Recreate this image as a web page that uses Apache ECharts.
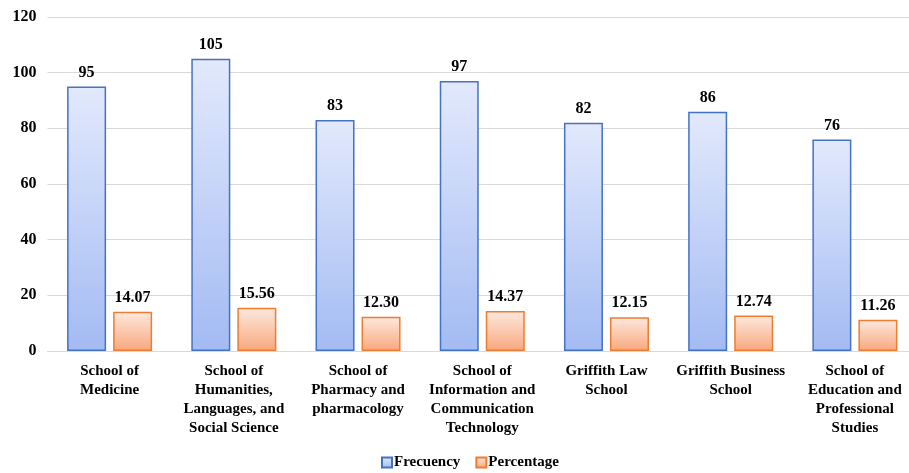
<!DOCTYPE html>
<html>
<head>
<meta charset="utf-8">
<script src="https://cdn.jsdelivr.net/npm/echarts@6/dist/echarts.min.js"></script>
<style>html,body{margin:0;padding:0;background:#fff;overflow:hidden;width:909px;height:473px}#c{width:917px;height:473px}</style>
</head>
<body>
<div id="c"></div>
<script>
const categories = [
  "School of\nMedicine",
  "School of\nHumanities,\nLanguages, and\nSocial Science",
  "School of\nPharmacy and\npharmacology",
  "School of\nInformation and\nCommunication\nTechnology",
  "Griffith Law\nSchool",
  "Griffith Business\nSchool",
  "School of\nEducation and\nProfessional\nStudies"
];
const frequency = [95, 105, 83, 97, 82, 86, 76];
const percentage = [14.07, 15.56, 12.30, 14.37, 12.15, 12.74, 11.26];
const yTicks = [0, 20, 40, 60, 80, 100, 120];

const font = "'Liberation Serif', 'DejaVu Serif', serif";
const chart = echarts.init(document.getElementById('c'));
const grad = (top, bottom) => new echarts.graphic.LinearGradient(0, 0, 0, 1, [
  {offset: 0, color: top}, {offset: 1, color: bottom}
]);
chart.setOption({
  animation: false,
  textStyle: {fontFamily: font},
  grid: {left: 47.5, right: 0, top: 17, bottom: 122},
  legend: {
    bottom: 3, left: 381, padding: 0, itemWidth: 10, itemHeight: 10, itemGap: 15,
    icon: 'rect',
    textStyle: {fontFamily: font, fontWeight: 'bold', fontSize: 15, color: '#000', padding: [0,0,0,-3]},
    data: ['Frecuency', 'Percentage']
  },
  xAxis: {
    type: 'category', data: categories,
    axisLine: {lineStyle: {color: '#d9d9d9'}},
    axisTick: {show: false},
    axisLabel: {
      interval: 0, margin: 11, color: '#000', fontFamily: font, fontWeight: 'bold',
      fontSize: 15, lineHeight: 19
    }
  },
  yAxis: {
    type: 'value', min: yTicks[0], max: yTicks[yTicks.length - 1], interval: 20,
    axisLine: {show: false}, axisTick: {show: false},
    splitLine: {lineStyle: {color: '#d9d9d9', width: 1}},
    axisLabel: {color: '#000', fontFamily: font, fontWeight: 'bold', fontSize: 16, margin: 11}
  },
  series: [
    {
      name: 'Frecuency', type: 'bar', data: frequency,
      barWidth: 39, barGap: '18%',
      itemStyle: {color: grad('#e2e9fc', '#a3bbf3'), borderColor: '#4472c4', borderWidth: 1.5},
      label: {show: true, position: 'top', distance: 6, color: '#000', fontFamily: font, fontWeight: 'bold', fontSize: 16}
    },
    {
      name: 'Percentage', type: 'bar', data: percentage,
      barWidth: 39,
      itemStyle: {color: grad('#fde9de', '#f8a77c'), borderColor: '#ed7d31', borderWidth: 1.5},
      label: {show: true, position: 'top', distance: 6, color: '#000', fontFamily: font, fontWeight: 'bold', fontSize: 16,
        formatter: p => p.value.toFixed(2)}
    }
  ]
});
</script>
</body>
</html>
